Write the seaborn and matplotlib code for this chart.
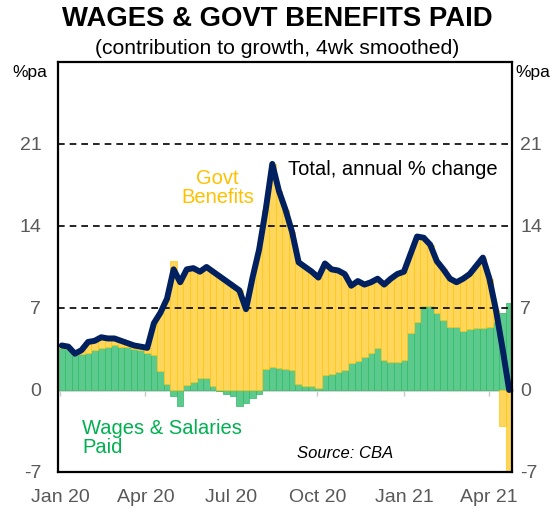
import numpy as np
import pandas as pd
import matplotlib
matplotlib.use("Agg")
import matplotlib.pyplot as plt
import seaborn as sns

# Weekly observations, contribution to annual growth (%pa), 4wk smoothed
first_week = "2020-01-03"
wages = [3.6, 3.5, 3.0, 3.1, 3.2, 3.4, 3.6, 3.7, 3.8, 3.7,
         3.7, 3.5, 3.4, 3.2, 3.0, 1.6, 0.5, -0.5, -1.4, 0.4,
         0.7, 1.0, 1.0, 0.3, -0.1, -0.3, -0.5, -1.4, -1.1, -0.7,
         -0.3, 1.8, 2.0, 1.9, 1.8, 1.7, 0.5, 0.3, 0.3, 0.2,
         1.3, 1.4, 1.5, 1.7, 2.3, 2.5, 2.8, 3.2, 3.6, 2.6,
         2.4, 2.4, 2.6, 4.9, 5.8, 7.2, 7.2, 6.6, 6.0, 5.4,
         5.4, 5.0, 5.2, 5.3, 5.3, 5.4, 5.8, 6.6, 7.4]
govt = [0.2, 0.2, 0.1, 0.3, 0.9, 0.8, 0.9, 0.7, 0.6, 0.5,
        0.3, 0.3, 0.3, 0.4, 2.7, 5.0, 7.3, 11.0, 9.6, 9.9,
        9.7, 9.1, 9.5, 9.8, 9.7, 9.3, 8.9, 8.5, 6.9, 9.6,
        12.0, 13.6, 17.3, 15.1, 13.6, 11.8, 10.4, 10.2, 9.8, 9.4,
        9.5, 8.9, 8.7, 8.2, 6.6, 6.8, 6.2, 6.0, 5.9, 6.4,
        7.1, 7.5, 7.5, 6.7, 7.3, 5.8, 5.2, 4.4, 4.3, 4.1,
        3.8, 4.5, 4.7, 5.3, 6.0, 4.1, 1.0, -3.1, -7.4]
total = [3.8, 3.7, 3.1, 3.4, 4.1, 4.2, 4.5, 4.4, 4.4, 4.2,
         4.0, 3.8, 3.7, 3.6, 5.7, 6.6, 7.8, 10.3, 9.2, 10.3,
         10.4, 10.1, 10.5, 10.1, 9.7, 9.3, 8.9, 8.5, 6.9, 9.6,
         12.0, 15.4, 19.3, 17.0, 15.4, 13.5, 10.9, 10.5, 10.1, 9.6,
         10.8, 10.3, 10.2, 9.9, 8.9, 9.3, 9.0, 9.2, 9.5, 9.0,
         9.5, 9.9, 10.1, 11.6, 13.1, 13.0, 12.4, 11.0, 10.3, 9.5,
         9.2, 9.5, 9.9, 10.6, 11.3, 9.5, 6.8, 3.5, 0.0]

tick_dates = ["2020-01-01", "2020-04-01", "2020-07-01",
              "2020-10-01", "2021-01-01", "2021-04-01"]
tick_labels = ["Jan 20", "Apr 20", "Jul 20", "Oct 20", "Jan 21", "Apr 21"]
y_ticks = [-7, 0, 7, 14, 21]

df = pd.DataFrame({
    "date": pd.date_range(first_week, periods=len(wages), freq="7D"),
    "wages": wages,
    "govt": govt,
    "total": total,
})
# positive and negative contributions stack separately
df["govt_base"] = np.where(df["govt"] >= 0,
                           df["wages"].clip(lower=0),
                           df["wages"].clip(upper=0))

sns.set_theme(style="white")
plt.rcParams["font.family"] = ["Liberation Sans", "DejaVu Sans"]

GREEN_FILL, GREEN_EDGE = "#5cca8d", "#2cbb66"
YELLOW_FILL, YELLOW_EDGE = "#ffd65c", "#ffc510"
NAVY = "#002060"
GREY = "#595959"

fig = plt.figure(figsize=(5.54, 5.24), dpi=100)
ax = fig.add_axes([58 / 554, 1 - 472 / 524, (512 - 58) / 554, (472 - 62) / 524])

ax.bar(df["date"], df["wages"], width=7, color=GREEN_FILL,
       edgecolor=GREEN_EDGE, linewidth=0.5, zorder=2)
ax.bar(df["date"], df["govt"], bottom=df["govt_base"], width=7,
       color=YELLOW_FILL, edgecolor=YELLOW_EDGE, linewidth=0.5, zorder=2)

for y in [7, 14, 21]:
    ax.axhline(y, color="black", linestyle=(0, (4, 3)), linewidth=1.2, zorder=3)

sns.lineplot(data=df, x="date", y="total", ax=ax, color=NAVY,
             linewidth=4.3, zorder=5, solid_joinstyle="round",
             solid_capstyle="round")

ax.set_xlim(pd.Timestamp("2019-12-30"), pd.Timestamp("2021-04-26"))
ax.set_ylim(-7, 28)
ax.set_xlabel("")
ax.set_ylabel("")

ax.set_yticks(y_ticks)
ax.set_yticklabels([str(v) for v in y_ticks])
ax.tick_params(axis="y", length=0, labelsize=14, labelcolor=GREY,
               pad=12, left=False, right=False)

# right-hand scale repeats the left one
right = ax.secondary_yaxis("right")
right.set_yticks(y_ticks)
right.set_yticklabels([str(v) for v in y_ticks])
right.tick_params(axis="y", length=0, labelsize=14, labelcolor=GREY, pad=6)
right.spines["right"].set_visible(False)

ax.set_xticks(pd.to_datetime(tick_dates))
ax.set_xticklabels(tick_labels)
ax.tick_params(axis="x", length=0, labelsize=14, labelcolor=GREY, pad=12)

for s in ax.spines.values():
    s.set_color("black")
    s.set_linewidth(1.6)
    s.set_zorder(6)

# grey zero line carrying the quarter tick marks
zero_frac = (0 - (-7)) / 35
sec = ax.secondary_xaxis(zero_frac)
sec.set_xticks(pd.to_datetime(tick_dates))
sec.tick_params(axis="x", direction="out", length=4, width=1,
                color="#c8c8c8", labelbottom=False, labeltop=False,
                bottom=True, top=False)
sec.spines["bottom"].set_color("#d0d0d0")
sec.spines["bottom"].set_linewidth(2)
sec.spines["top"].set_visible(False)

ax.text(0.352, 0.693, "Govt\nBenefits", transform=ax.transAxes,
        color="#ffc000", fontsize=14.5, ha="center", va="center",
        linespacing=1.0, zorder=7)
ax.text(0.507, 0.737, "Total, annual % change", transform=ax.transAxes,
        color="black", fontsize=14.5, ha="left", va="center", zorder=7)
ax.text(0.053, 0.083, "Wages & Salaries\nPaid", transform=ax.transAxes,
        color="#00b050", fontsize=14.5, ha="left", va="center",
        linespacing=1.05, zorder=7)
ax.text(0.526, 0.044, "Source: CBA", transform=ax.transAxes,
        color="black", fontsize=12, style="italic", ha="left",
        va="center", zorder=7)

fig.text(0.5, 1 - 19 / 524, "WAGES & GOVT BENEFITS PAID", ha="center",
         va="center", fontsize=19.8, fontweight="bold", color="black")
fig.text(0.5, 1 - 48 / 524, "(contribution to growth, 4wk smoothed)",
         ha="center", va="center", fontsize=15.2, color="black")
fig.text(30 / 554, 1 - 73 / 524, "%pa", ha="center", va="center",
         fontsize=12.5, color="black")
fig.text(533 / 554, 1 - 73 / 524, "%pa", ha="center", va="center",
         fontsize=12.5, color="black")

fig.savefig("out.png", dpi=100)
